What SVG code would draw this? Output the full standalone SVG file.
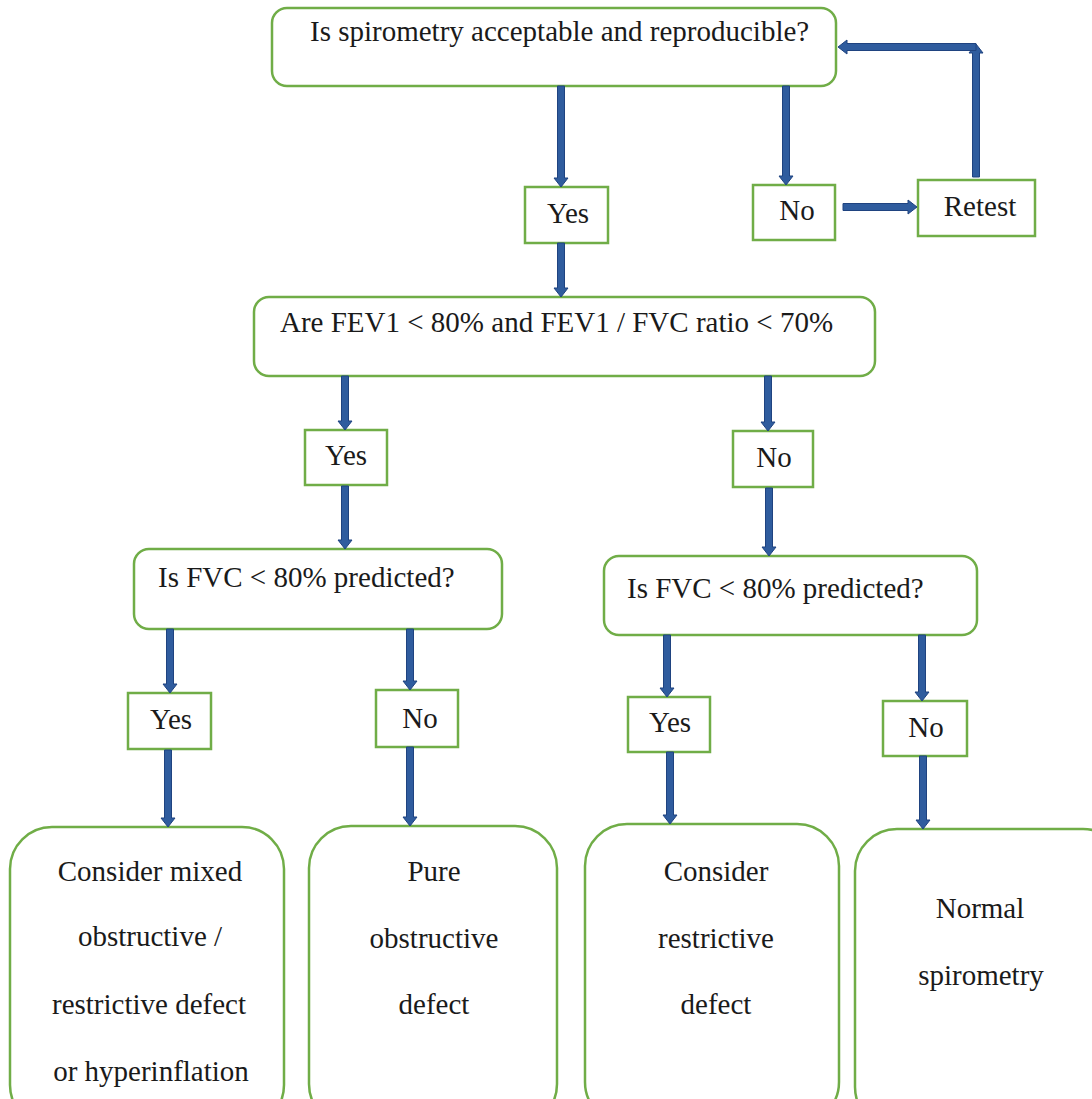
<svg xmlns="http://www.w3.org/2000/svg" width="1092" height="1099" viewBox="0 0 1092 1099">
<style>
.box{fill:#fff;stroke:#70AD47;stroke-width:2.5}
.t{font-family:"Liberation Serif","Times New Roman",serif;font-size:29px;fill:#1a1a1a}
.c{text-anchor:middle}
.arr{fill:#2F5C9E;stroke:#1F4380;stroke-width:1}
</style>
<rect width="1092" height="1099" fill="#fff"/>
<g id="n-top"><rect class="box" x="272" y="8" width="564" height="78" rx="15"/><text class="t" x="310" y="41">Is spirometry acceptable and reproducible?</text></g>
<g id="n-yes1"><rect class="box" x="525" y="187" width="83" height="56"/><text class="t c" x="568" y="223">Yes</text></g>
<g id="n-no1"><rect class="box" x="753" y="185" width="82" height="55"/><text class="t c" x="797" y="220">No</text></g>
<g id="n-retest"><rect class="box" x="918" y="180" width="117" height="56"/><text class="t c" x="980" y="216">Retest</text></g>
<g id="n-fev"><rect class="box" x="254" y="297" width="621" height="79" rx="15"/><text class="t" x="280" y="332">Are FEV1 &lt; 80% and FEV1 / FVC ratio &lt; 70%</text></g>
<g id="n-yes2"><rect class="box" x="305" y="430" width="82" height="55"/><text class="t c" x="346" y="465">Yes</text></g>
<g id="n-no2"><rect class="box" x="733" y="431" width="80" height="56"/><text class="t c" x="774" y="467">No</text></g>
<g id="n-fvcL"><rect class="box" x="134" y="549" width="368" height="80" rx="15"/><text class="t" x="158" y="587">Is FVC &lt; 80% predicted?</text></g>
<g id="n-fvcR"><rect class="box" x="604" y="556" width="373" height="79" rx="15"/><text class="t" x="627" y="598">Is FVC &lt; 80% predicted?</text></g>
<g id="n-yes3"><rect class="box" x="128" y="693" width="83" height="56"/><text class="t c" x="171" y="729">Yes</text></g>
<g id="n-no3"><rect class="box" x="376" y="690" width="82" height="57"/><text class="t c" x="420" y="728">No</text></g>
<g id="n-yes4"><rect class="box" x="628" y="697" width="82" height="55"/><text class="t c" x="670" y="732">Yes</text></g>
<g id="n-no4"><rect class="box" x="883" y="701" width="84" height="55"/><text class="t c" x="926" y="737">No</text></g>
<g id="n-mixed"><rect class="box" x="10" y="827" width="274" height="300" rx="42"/><text class="t c" x="150" y="881">Consider mixed</text><text class="t c" x="150" y="946">obstructive /</text><text class="t c" x="149" y="1014">restrictive defect</text><text class="t c" x="151" y="1081">or hyperinflation</text></g>
<g id="n-pure"><rect class="box" x="309" y="826" width="248" height="300" rx="42"/><text class="t c" x="434" y="881">Pure</text><text class="t c" x="434" y="948">obstructive</text><text class="t c" x="434" y="1014">defect</text></g>
<g id="n-restr"><rect class="box" x="585" y="824" width="254" height="300" rx="42"/><text class="t c" x="716" y="881">Consider</text><text class="t c" x="716" y="948">restrictive</text><text class="t c" x="716" y="1014">defect</text></g>
<g id="n-normal"><rect class="box" x="855" y="829" width="270" height="300" rx="42"/><text class="t c" x="980" y="918">Normal</text><text class="t c" x="981" y="985">spirometry</text></g>
<g id="connectors">
<path class="arr" d="M557.5 86 H564.5 V178 H568 L561 187 L554 178 H557.5 Z"/>
<path class="arr" d="M557.5 243 H564.5 V288 H568 L561 297 L554 288 H557.5 Z"/>
<path class="arr" d="M782.5 86 H789.5 V176 H793 L786 185 L779 176 H782.5 Z"/>
<path class="arr" d="M843 203.5 V210.5 H908 V214 L917 207 L908 200 V203.5 Z"/>
<path class="arr" d="M972.5 177 H979.5 V53 H983 L976 44 L969 53 H972.5 Z"/>
<path class="arr" d="M976 43.5 V50.5 H847 V54 L838 47 L847 40 V43.5 Z"/>
<path class="arr" d="M341.5 376 H348.5 V421 H352 L345 430 L338 421 H341.5 Z"/>
<path class="arr" d="M341.5 486 H348.5 V540 H352 L345 549 L338 540 H341.5 Z"/>
<path class="arr" d="M764.5 376 H771.5 V422 H775 L768 431 L761 422 H764.5 Z"/>
<path class="arr" d="M765.5 488 H772.5 V547 H776 L769 556 L762 547 H765.5 Z"/>
<path class="arr" d="M166.5 629 H173.5 V684 H177 L170 693 L163 684 H166.5 Z"/>
<path class="arr" d="M164.5 750 H171.5 V818 H175 L168 827 L161 818 H164.5 Z"/>
<path class="arr" d="M406.5 629 H413.5 V681 H417 L410 690 L403 681 H406.5 Z"/>
<path class="arr" d="M406.5 747 H413.5 V817 H417 L410 826 L403 817 H406.5 Z"/>
<path class="arr" d="M663.5 635 H670.5 V688 H674 L667 697 L660 688 H663.5 Z"/>
<path class="arr" d="M666.5 752 H673.5 V815 H677 L670 824 L663 815 H666.5 Z"/>
<path class="arr" d="M918.5 635 H925.5 V692 H929 L922 701 L915 692 H918.5 Z"/>
<path class="arr" d="M919.5 756 H926.5 V820 H930 L923 829 L916 820 H919.5 Z"/>
</g>
</svg>
